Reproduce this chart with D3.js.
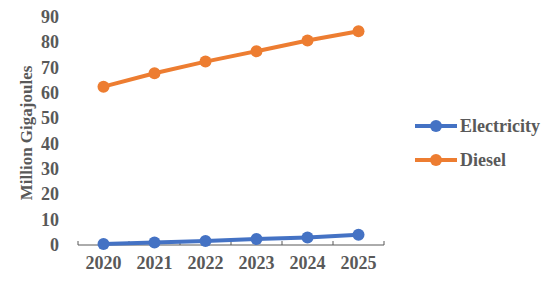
<!DOCTYPE html>
<html>
<head>
<meta charset="utf-8">
<script src="https://cdn.jsdelivr.net/npm/d3@7"></script>
</head>
<body style="margin:0;background:#fff">
<script>
var years = ['2020','2021','2022','2023','2024','2025'];
var electricity = [0.4, 1.0, 1.6, 2.4, 3.0, 4.0];
var diesel = [62.5, 67.8, 72.4, 76.5, 80.7, 84.4];
var yTicks = [0,10,20,30,40,50,60,70,80,90];
var seriesNames = ['Electricity','Diesel'];
var colors = ['#4472C4','#ED7D31'];

var svg = d3.select("body").append("svg").attr("width",550).attr("height",283);

var x = d3.scaleBand()
        .domain(years)
        .range([78, 384]);

var y = d3.scaleLinear()
        .domain([0, 90])
        .range([245, 17]);

function label(sel, size){
    return sel.attr("font-family","Liberation Serif")
              .attr("font-weight","bold")
              .attr("font-size",size)
              .attr("fill","#595959");
}

// y tick labels (no axis line)
svg.append("g").selectAll("text")
    .data(yTicks)
    .enter().append("text")
        .attr("x", 59)
        .attr("y", function(d){return y(d);})
        .attr("text-anchor","end")
        .attr("dominant-baseline","central")
        .call(label, 18)
        .text(function(d){return d;});

// x axis
var xAxis = svg.append("g").attr("transform","translate(0,245)");
xAxis.append("line")
    .attr("x1",78).attr("x2",384).attr("y1",0).attr("y2",0)
    .attr("stroke","#595959").attr("stroke-width",1);
var bounds = years.map(function(d){return x(d);}).concat([x.range()[1]]);
xAxis.selectAll("line.tick")
    .data(bounds)
    .enter().append("line")
        .attr("class","tick")
        .attr("x1",function(d){return d;}).attr("x2",function(d){return d;})
        .attr("y1",0).attr("y2",-4)
        .attr("stroke","#595959").attr("stroke-width",1);
xAxis.selectAll("text")
    .data(years)
    .enter().append("text")
        .attr("x",function(d){return x(d) + x.bandwidth()/2;})
        .attr("y",24)
        .attr("text-anchor","middle")
        .call(label, 18)
        .text(function(d){return d;});

// y axis title
svg.append("text")
    .attr("transform","translate(26,133) rotate(-90)")
    .attr("text-anchor","middle")
    .attr("dominant-baseline","central")
    .call(label, 17)
    .text("Million Gigajoules");

var line = d3.line()
    .x(function(d,i){return x(years[i]) + x.bandwidth()/2;})
    .y(function(d){return y(d);});

[electricity, diesel].forEach(function(vals, k){
    svg.append("path")
        .datum(vals)
        .attr("d", line)
        .attr("fill","none")
        .attr("stroke",colors[k])
        .attr("stroke-width",4);
    svg.append("g").selectAll("circle")
        .data(vals)
        .enter().append("circle")
            .attr("cx",function(d,i){return x(years[i]) + x.bandwidth()/2;})
            .attr("cy",function(d){return y(d);})
            .attr("r",6)
            .attr("fill",colors[k]);
});

// legend
var legend = svg.append("g").selectAll("g")
    .data(seriesNames)
    .enter().append("g")
        .attr("transform",function(d,i){return "translate(415," + (126 + i*34) + ")";});
legend.append("line")
    .attr("x1",0).attr("x2",42).attr("y1",0).attr("y2",0)
    .attr("stroke",function(d,i){return colors[i];})
    .attr("stroke-width",4);
legend.append("circle")
    .attr("cx",21).attr("cy",0).attr("r",6)
    .attr("fill",function(d,i){return colors[i];});
legend.append("text")
    .attr("x",45).attr("y",0)
    .attr("dominant-baseline","central")
    .call(label, 18)
    .text(function(d){return d;});
</script>
</body>
</html>
